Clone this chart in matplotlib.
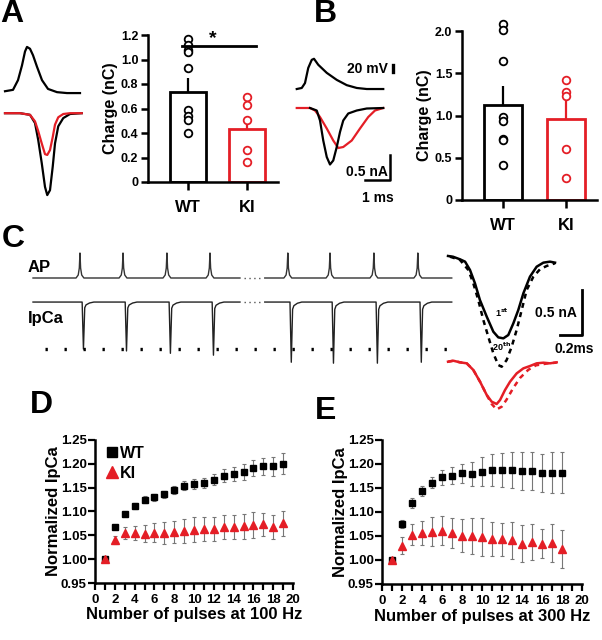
import matplotlib
matplotlib.use("Agg")
import matplotlib.pyplot as plt
from matplotlib.lines import Line2D
from matplotlib.ticker import MultipleLocator

plt.rcParams['font.family'] = ['Liberation Sans', 'DejaVu Sans']
plt.rcParams['font.weight'] = 'bold'
plt.rcParams['axes.labelweight'] = 'bold'
plt.rcParams['mathtext.default'] = 'bf'

RED = '#e41e26'

# ---------------- DATA ----------------
groups = ['WT', 'KI']

# Panel A bar chart (Charge, nC)
A_means = [0.736, 0.436]
A_sem = [0.11, 0.09]
A_wt_pts = [1.17, 1.12, 1.08, 1.06, 0.93, 0.59, 0.54, 0.51, 0.40]
A_ki_pts = [0.69, 0.63, 0.51, 0.26, 0.16]
A_yticks = [0, 0.2, 0.4, 0.6, 0.8, 1.0, 1.2]
A_ytick_labels = ['0', '0.2', '0.4', '0.6', '0.8', '1.0', '1.2']

# Panel B bar chart
B_means = [1.12, 0.96]
B_sem = [0.226, 0.26]
B_wt_pts = [2.08, 2.01, 1.645, 0.98, 0.93, 0.72, 0.71, 0.42]
B_ki_pts = [1.42, 1.28, 1.23, 0.60, 0.26]
B_yticks = [0, 0.5, 1.0, 1.5, 2.0]
B_ytick_labels = ['0', '0.5', '1.0', '1.5', '2.0']

# Panel A traces (normalized), time in ms
A_ap_t = [0.2, 0.52, 0.72, 0.88, 1.0, 1.08, 1.2, 1.32, 1.48, 1.68, 1.92, 2.28, 2.68, 3.2]
A_ap_v = [0.04, 0.07, 0.28, 0.6, 0.9, 1.0, 0.96, 0.82, 0.57, 0.28, 0.09, 0.02, 0.0, 0.0]
A_i_t = [0.2, 0.8, 1.2, 1.4, 1.53, 1.67, 1.8, 1.89, 2.0, 2.11, 2.2, 2.33, 2.53, 2.8, 3.27]
A_i_wt = [0, 0, -0.02, -0.12, -0.33, -0.61, -0.9, -1.0, -0.94, -0.65, -0.37, -0.16, -0.06, -0.01, 0]
A_i_ki = [0, 0, -0.02, -0.10, -0.22, -0.37, -0.5, -0.51, -0.45, -0.29, -0.14, -0.05, -0.01, 0, 0]

# Panel B traces (mV / nA), time in ms
B_ap_t = [0.27, 0.47, 0.6, 0.73, 0.87, 0.96, 1.13, 1.47, 1.87, 2.27, 2.67, 3.07, 3.73]
B_ap_v = [0, 3, 17, 60, 83, 86, 69, 46, 26, 11, 3, 0, 0]
B_i_wt_t = [0.8, 1.07, 1.2, 1.33, 1.47, 1.6, 1.73, 1.87, 2.0, 2.13, 2.33, 2.67, 3.07, 3.73]
B_i_wt = [0, -0.05, -0.25, -0.65, -0.98, -1.13, -1.05, -0.78, -0.48, -0.25, -0.11, -0.05, -0.01, 0]
B_i_ki_t = [0.27, 0.8, 1.0, 1.2, 1.47, 1.73, 1.93, 2.13, 2.47, 2.8, 3.13, 3.4, 3.73]
B_i_ki = [0, 0, -0.05, -0.18, -0.41, -0.65, -0.8, -0.78, -0.65, -0.41, -0.18, -0.05, 0]

# Panel C trains (ms)
C_segments = [(0.0, 47.6), (53.3, 96.3)]
C_ap_times = [10.8, 20.7, 30.8, 40.7, 58.6, 68.3, 78.4, 88.5]
C_ap_shape_dt = [-0.9, -0.4, -0.15, 0.0, 0.15, 0.4, 0.9]
C_ap_shape_v = [0.0, 0.12, 0.4, 1.0, 0.4, 0.12, 0.0]
C_i_times = [11.6, 21.5, 31.6, 41.5, 59.4, 69.1, 79.2, 89.3]
C_i_amp = [1.0, 1.04, 1.09, 1.13, 1.28, 1.30, 1.30, 1.28]
C_i_shape_dt = [-0.3, 0.0, 0.3, 0.6, 1.4, 2.4]
C_i_shape_v = [0.0, -1.0, -0.12, -0.06, -0.02, 0.0]

# Panel C right: 1st vs 20th IpCa (nA), time in ms
C_wt1_t = [0, 0.045, 0.109, 0.155, 0.2, 0.245, 0.29, 0.352, 0.412, 0.457, 0.503, 0.548,
           0.594, 0.639, 0.685, 0.745, 0.806, 0.867, 0.927, 0.973]
C_wt1_i = [0, -0.008, -0.037, -0.063, -0.156, -0.304, -0.489, -0.674, -0.841, -0.904, -0.915,
           -0.878, -0.748, -0.6, -0.415, -0.23, -0.119, -0.074, -0.063, -0.074]
C_wt20_t = [0.018, 0.109, 0.185, 0.23, 0.275, 0.321, 0.366, 0.412, 0.457, 0.488, 0.533,
            0.579, 0.624, 0.67, 0.715, 0.776, 0.836, 0.897, 0.973]
C_wt20_i = [-0.008, -0.044, -0.156, -0.304, -0.489, -0.711, -0.896, -1.081, -1.211, -1.23,
            -1.156, -1.007, -0.822, -0.6, -0.378, -0.23, -0.148, -0.111, -0.081]
C_ki1_t = [0, 0.048, 0.109, 0.17, 0.23, 0.291, 0.352, 0.397, 0.442, 0.473, 0.518, 0.564,
           0.624, 0.685, 0.745, 0.806, 0.867, 0.927, 0.988]
C_ki1_i = [0, 0.011, -0.007, -0.018, -0.092, -0.222, -0.37, -0.444, -0.47, -0.426, -0.315,
           -0.222, -0.13, -0.074, -0.048, -0.018, -0.011, -0.018, -0.007]
C_ki20_t = [0, 0.048, 0.109, 0.17, 0.23, 0.291, 0.352, 0.397, 0.442, 0.488, 0.533, 0.594,
            0.655, 0.73, 0.8, 0.9, 0.988]
C_ki20_i = [0, 0.011, -0.007, -0.018, -0.092, -0.222, -0.37, -0.47, -0.53, -0.50, -0.42,
            -0.29, -0.18, -0.09, -0.04, -0.02, -0.01]

# Panel D (100 Hz)
D_x = list(range(1, 20))
D_wt = [1.00, 1.068, 1.095, 1.112, 1.125, 1.130, 1.136, 1.145, 1.154, 1.158, 1.160, 1.167,
        1.175, 1.178, 1.183, 1.192, 1.195, 1.195, 1.200]
D_wt_err = [0.003, 0.004, 0.005, 0.006, 0.007, 0.007, 0.008, 0.008, 0.009, 0.010, 0.011, 0.012,
            0.014, 0.015, 0.016, 0.017, 0.018, 0.020, 0.022]
D_ki = [1.00, 1.040, 1.055, 1.055, 1.053, 1.055, 1.055, 1.057, 1.059, 1.062, 1.064, 1.063,
        1.067, 1.068, 1.069, 1.071, 1.073, 1.068, 1.075]
D_ki_err = [0.004, 0.008, 0.012, 0.015, 0.018, 0.020, 0.023, 0.024, 0.026, 0.026, 0.025, 0.025,
            0.025, 0.025, 0.026, 0.027, 0.024, 0.025, 0.026]

# Panel E (300 Hz)
E_x = list(range(1, 19))
E_wt = [1.00, 1.075, 1.119, 1.144, 1.161, 1.172, 1.176, 1.181, 1.180, 1.184, 1.188, 1.187,
        1.188, 1.186, 1.186, 1.181, 1.182, 1.182]
E_wt_err = [0.003, 0.008, 0.010, 0.010, 0.012, 0.015, 0.018, 0.020, 0.025, 0.030, 0.033, 0.035,
            0.037, 0.040, 0.040, 0.040, 0.042, 0.043]
E_ki = [1.00, 1.030, 1.053, 1.057, 1.059, 1.061, 1.056, 1.051, 1.050, 1.048, 1.044, 1.043,
        1.041, 1.034, 1.038, 1.034, 1.035, 1.023]
E_ki_err = [0.004, 0.017, 0.022, 0.025, 0.030, 0.030, 0.032, 0.035, 0.037, 0.040, 0.035, 0.035,
            0.038, 0.038, 0.038, 0.030, 0.040, 0.040]

D_yticks = [0.95, 1.00, 1.05, 1.10, 1.15, 1.20, 1.25]

# ---------------- FIGURE ----------------
W, H = 602, 640
fig = plt.figure(figsize=(W / 100, H / 100), dpi=100)


def px_axes(x0, y0, x1, y1):
    ax = fig.add_axes([x0 / W, 1 - y1 / H, (x1 - x0) / W, (y1 - y0) / H])
    ax.patch.set_alpha(0)
    return ax


def trace_axes(x0, y0, x1, y1, xlim, ylim):
    ax = px_axes(x0, y0, x1, y1)
    ax.set_xlim(*xlim)
    ax.set_ylim(*ylim)
    ax.axis('off')
    return ax


def letter(x, y, s):
    fig.text(x / W, 1 - y / H, s, fontsize=23, fontweight='bold', ha='center', va='center')


letter(12, 14, 'A')
letter(325, 14, 'B')
letter(13, 239, 'C')
letter(41, 405, 'D')
letter(326, 411, 'E')


def bar_panel(ax, means, sem, wt_pts, ki_pts, yticks, ylabels, ylim, xlim, width):
    cols = ['black', RED]
    for i, (m, s, c) in enumerate(zip(means, sem, cols)):
        ax.bar(i, m, width=width, facecolor='white', edgecolor=c, linewidth=2.0, zorder=2)
        ax.errorbar(i, m, yerr=[[0], [s]], color=c, elinewidth=1.6, capsize=0, zorder=3)
    for i, (pts, c) in enumerate(zip([wt_pts, ki_pts], cols)):
        ax.plot([i] * len(pts), pts, 'o', mfc='white', mec=c, mew=1.3, ms=5.5,
                linestyle='none', zorder=4, clip_on=False)
    ax.set_xlim(*xlim)
    ax.set_ylim(*ylim)
    ax.set_yticks(yticks)
    ax.set_yticklabels(ylabels)
    ax.set_xticks([0, 1])
    ax.set_xticklabels(groups, fontsize=12, fontweight='bold')
    for s in ['top', 'right']:
        ax.spines[s].set_visible(False)
    for s in ['left', 'bottom']:
        ax.spines[s].set_linewidth(1.8)
    ax.tick_params(axis='y', direction='out', length=5, width=1.8, labelsize=9, pad=2)
    ax.tick_params(axis='x', direction='out', length=6, width=1.8, pad=7)
    ax.set_ylabel('Charge (nC)', fontsize=11.5, fontweight='bold', labelpad=2)


# ----- Panel A -----
axA = px_axes(148, 35, 278, 182)
bar_panel(axA, A_means, A_sem, A_wt_pts, A_ki_pts, A_yticks, A_ytick_labels,
          (0, 1.2), (-0.68, 1.525), 0.61)
axA.plot([-0.10, 1.15], [1.113, 1.113], color='black', lw=2, zorder=5, clip_on=False)
axA.text(0.42, 1.17, '*', fontsize=14, fontweight='bold', ha='center', va='center')

axA_ap = trace_axes(0, 40, 85, 100, (0, 3.4), (-0.15, 1.15))
axA_ap.plot(A_ap_t, A_ap_v, color='black', lw=1.6)
axA_i = trace_axes(0, 105, 85, 200, (0, 3.4), (-1.06, 0.1))
axA_i.plot(A_i_t, A_i_wt, color='black', lw=1.6)
axA_i.plot(A_i_t, A_i_ki, color=RED, lw=1.6)

# ----- Panel B -----
axB = px_axes(462, 31, 597, 200)
bar_panel(axB, B_means, B_sem, B_wt_pts, B_ki_pts, B_yticks, B_ytick_labels,
          (0, 2.0), (-0.65, 1.49), 0.59)

axB_ap = trace_axes(290, 50, 400, 95, (0, 4.4), (-17, 111))
axB_ap.plot(B_ap_t, B_ap_v, color='black', lw=1.6)
axB_ap.plot([4.12, 4.12], [48, 68], color='black', lw=2.4)
axB_ap.text(3.9, 58, '20 mV', fontsize=10, fontweight='bold', ha='right', va='center')

axB_i = trace_axes(290, 100, 400, 205, (0, 4.4), (-1.94, 0.16))
axB_i.plot(B_i_ki_t, B_i_ki, color=RED, lw=1.6)
axB_i.plot(B_i_wt_t, B_i_wt, color='black', lw=1.6)
axB_i.plot([3.0, 4.0, 4.0], [-1.44, -1.44, -0.94], color='black', lw=1.8)
axB_i.text(3.9, -1.28, '0.5 nA', fontsize=10, fontweight='bold', ha='right', va='center')
axB_i.text(3.52, -1.8, '1 ms', fontsize=10, fontweight='bold', ha='center', va='center')

# ----- Panel C trains -----
def build_train(seg, times, amps, dts, shape):
    t0, t1 = seg
    ts, vs = [t0], [0.0]
    for tk, a in zip(times, amps):
        if t0 < tk < t1:
            for dt, v in zip(dts, shape):
                ts.append(tk + dt)
                vs.append(v * a)
    ts.append(t1)
    vs.append(0.0)
    return ts, vs


xl_C = (-0.69, 98.2)
axC_ap = trace_axes(30, 248, 460, 283, xl_C, (-0.2, 1.2))
axC_i = trace_axes(30, 295, 460, 366, xl_C, (-1.36, 0.15))
for seg in C_segments:
    t, v = build_train(seg, C_ap_times, [1.0] * len(C_ap_times), C_ap_shape_dt, C_ap_shape_v)
    axC_ap.plot(t, v, color='#333333', lw=1.0)
    t, v = build_train(seg, C_i_times, C_i_amp, C_i_shape_dt, C_i_shape_v)
    axC_i.plot(t, v, color='#222222', lw=1.0)
for ax in (axC_ap, axC_i):
    ax.plot([48.6, 52.4], [0, 0], color='#555555', lw=1.0, linestyle=(0, (1, 2.5)))
axC_i.plot([2.8, 97.5], [-1.0, -1.0], color='black', lw=2.4, linestyle=(0, (0.7, 5.0)))
fig.text(28 / W, 1 - 267 / H, 'AP', fontsize=12, fontweight='bold', ha='left', va='center')
fig.text(28 / W, 1 - 318 / H, 'IpCa', fontsize=12, fontweight='bold', ha='left', va='center')

# ----- Panel C right traces -----
axC_r = trace_axes(440, 245, 600, 375, (-0.073, 1.382), (-1.322, 0.122))
axC_r.plot(C_wt1_t, C_wt1_i, color='black', lw=1.8)
axC_r.plot(C_wt20_t, C_wt20_i, color='black', lw=1.8, linestyle=(0, (2.0, 1.8)))
axC_r.plot([1.018, 1.218, 1.218], [-0.878, -0.878, -0.378], color='black', lw=2.0)
axC_r.text(1.17, -0.63, '0.5 nA', fontsize=10, fontweight='bold', ha='right', va='center')
axC_r.text(1.15, -1.03, '0.2ms', fontsize=10, fontweight='bold', ha='center', va='center')
axC_r.text(0.49, -0.63, r'1$^{\mathbf{st}}$', fontsize=6.5, ha='center', va='center')
axC_r.text(0.49, -1.01, r'20$^{\mathbf{th}}$', fontsize=6.5, ha='center', va='center')

axC_r2 = trace_axes(440, 350, 600, 415, (-0.073, 1.382), (-0.592, 0.13))
axC_r2.plot(C_ki1_t, C_ki1_i, color=RED, lw=1.8)
axC_r2.plot(C_ki20_t, C_ki20_i, color=RED, lw=1.8, linestyle=(0, (2.0, 1.8)))


# ----- Panels D & E -----
def pulse_panel(ax, x, wt, wte, ki, kie, xlabel, legend):
    ax.errorbar(x, wt, yerr=wte, fmt='s', color='black', ms=4.5, ecolor='#777777',
                elinewidth=0.8, capsize=1.6, capthick=0.8, label='WT', zorder=3)
    ax.errorbar(x, ki, yerr=kie, fmt='^', color=RED, mec=RED, ms=5.5, ecolor='#777777',
                elinewidth=0.8, capsize=1.6, capthick=0.8, label='KI', zorder=3)
    ax.set_xlim(0, 20)
    ax.set_ylim(0.95, 1.25)
    ax.xaxis.set_major_locator(MultipleLocator(2))
    ax.xaxis.set_minor_locator(MultipleLocator(1))
    ax.set_yticks(D_yticks)
    ax.set_yticklabels(['%.2f' % v for v in D_yticks])
    for s in ['top', 'right']:
        ax.spines[s].set_visible(False)
    for s in ['left', 'bottom']:
        ax.spines[s].set_linewidth(1.8)
    ax.tick_params(axis='both', which='major', direction='out', length=5, width=1.6,
                   labelsize=9.5)
    ax.tick_params(axis='x', which='minor', direction='out', length=5, width=1.6)
    ax.tick_params(axis='y', pad=1)
    ax.tick_params(axis='x', pad=3)
    ax.set_xlabel(xlabel, fontsize=12, fontweight='bold', labelpad=1)
    ax.set_ylabel('Normalized IpCa', fontsize=12, fontweight='bold', labelpad=0)
    if legend:
        h = [Line2D([], [], marker='s', color='black', linestyle='none', ms=6.5),
             Line2D([], [], marker='^', color=RED, linestyle='none', ms=8)]
        ax.legend(h, ['WT', 'KI'], loc='upper left', bbox_to_anchor=(-0.02, 1.06),
                  frameon=False, handlelength=0.8, handletextpad=0.1, labelspacing=0.3,
                  prop={'size': 11.5, 'weight': 'bold'})


axD = px_axes(95, 440, 293, 583)
pulse_panel(axD, D_x, D_wt, D_wt_err, D_ki, D_ki_err, 'Number of pulses at 100 Hz', True)
axE = px_axes(382, 440, 582, 584)
pulse_panel(axE, E_x, E_wt, E_wt_err, E_ki, E_ki_err, 'Number of pulses at 300 Hz', False)

fig.savefig('out.png', dpi=100)
